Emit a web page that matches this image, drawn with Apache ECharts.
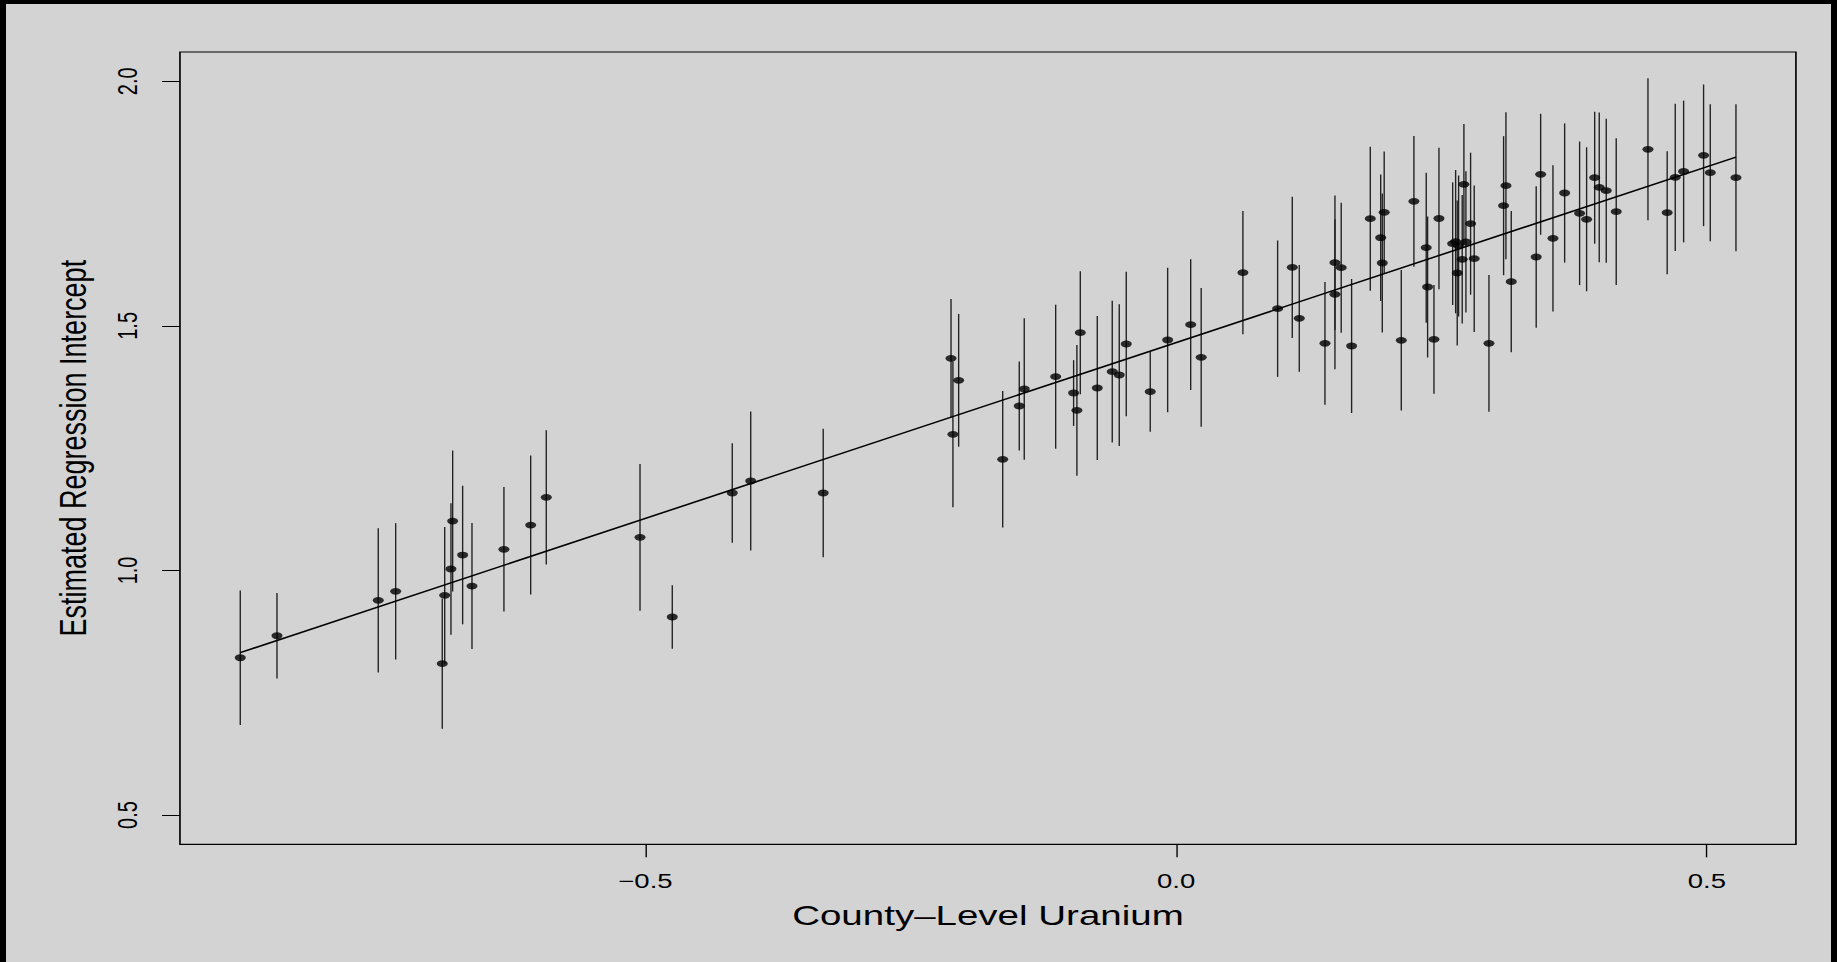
<!DOCTYPE html>
<html>
<head>
<meta charset="utf-8">
<title>County intercepts vs county-level uranium</title>
<script src="https://cdn.jsdelivr.net/npm/echarts@6/dist/echarts.min.js"></script>
<style>
  html, body { margin: 0; padding: 0; background: #000; width: 1837px; height: 962px; overflow: hidden; }
  #frame { position: absolute; left: 6px; top: 4px; width: 1825px; height: 958px; background: #d3d3d3; overflow: hidden; }
  /* the plot is laid out on a narrower canvas and widened horizontally */
  #chart { position: absolute; left: 0; top: 0; width: 1327px; height: 958px; transform-origin: 0 0; }
</style>
</head>
<body>
<div id="frame"><div id="chart"></div></div>
<script>
// County-level log uranium (x) for each of the 85 counties
const uranium = [
  -0.8817, -0.8471, -0.7517, -0.7353, -0.6914, -0.6891, -0.6832, -0.6816, -0.6722, -0.6634,
  -0.6333, -0.6081, -0.5934, -0.5051, -0.4747, -0.4182, -0.4008, -0.3325, -0.2121, -0.2103,
  -0.2049, -0.1634, -0.1478, -0.1431, -0.1135, -0.0966, -0.0935, -0.0903, -0.0743, -0.0602,
  -0.0536, -0.0470, -0.0244, -0.0080, 0.0137, 0.0236, 0.0629, 0.0956, 0.1094, 0.1160,
  0.1402, 0.1496, 0.1496, 0.1555, 0.1653, 0.1829, 0.1927, 0.1942, 0.1960, 0.2121,
  0.2240, 0.2356, 0.2369, 0.2429, 0.2476, 0.2605, 0.2633, 0.2661, 0.2648, 0.2695,
  0.2711, 0.2730, 0.2774, 0.2808, 0.2947, 0.3085, 0.3107, 0.3157, 0.3392, 0.3434,
  0.3550, 0.3660, 0.3801, 0.3867, 0.3943, 0.3986, 0.4052, 0.4146, 0.4445, 0.4626,
  0.4702, 0.4781, 0.4969, 0.5032, 0.5274
];

// Estimated county intercepts
const intercept = [
  0.8215, 0.8665, 0.9389, 0.9573, 0.8093, 0.9491, 1.0029, 1.1010, 1.0315, 0.9681,
  1.0432, 1.0928, 1.1495, 1.0677, 0.9048, 1.1583, 1.1828, 1.1583, 1.4337, 1.2783,
  1.3887, 1.2272, 1.3362, 1.3709, 1.3961, 1.3627, 1.3274, 1.4860, 1.3730, 1.4063,
  1.3995, 1.4629, 1.3654, 1.4711, 1.5024, 1.4357, 1.6087, 1.5351, 1.6197, 1.5155,
  1.4643, 1.6291, 1.5645, 1.6189, 1.4588, 1.7191, 1.6802, 1.6285, 1.7322, 1.4705,
  1.7547, 1.6598, 1.5795, 1.4725, 1.7195, 1.6680, 1.6721, 1.6633, 1.6081, 1.6361,
  1.7894, 1.6715, 1.7089, 1.6373, 1.4643, 1.7457, 1.7866, 1.5903, 1.6408, 1.8099,
  1.6790, 1.7716, 1.7301, 1.7179, 1.8029, 1.7833, 1.7763, 1.7334, 1.8610, 1.7314,
  1.8037, 1.8156, 1.8487, 1.8131, 1.8029
];

// Standard errors (bars run one standard error above and below)
const stdErr = [
  0.1373, 0.0872, 0.1475, 0.1394, 0.1329, 0.1397, 0.1346, 0.1441, 0.1417, 0.1288,
  0.1272, 0.1421, 0.1373, 0.1500, 0.0648, 0.1016, 0.1421, 0.1312, 0.1213, 0.1492,
  0.1357, 0.1396, 0.0910, 0.1445, 0.1472, 0.0672, 0.1336, 0.1257, 0.1472, 0.1449,
  0.1449, 0.1479, 0.0818, 0.1476, 0.1336, 0.1418, 0.1260, 0.1394, 0.1444, 0.1091,
  0.1254, 0.1373, 0.1533, 0.1329, 0.1370, 0.1472, 0.1295, 0.1421, 0.1243, 0.1437,
  0.1336, 0.1533, 0.1441, 0.1111, 0.1448, 0.1254, 0.1465, 0.1441, 0.1482, 0.1312,
  0.1233, 0.1444, 0.1452, 0.1497, 0.1397, 0.1421, 0.1503, 0.1444, 0.1445, 0.1237,
  0.1496, 0.1423, 0.1468, 0.1472, 0.1349, 0.1530, 0.1472, 0.1500, 0.1452, 0.1257,
  0.1506, 0.1449, 0.1448, 0.1400, 0.1503
];

// Fitted group-level regression line, end points
const fitUranium = [-0.8817, 0.5274];
const fitIntercept = [0.832, 1.845];

// Axis ticks
const xTicks = [-0.5, 0, 0.5];
const yTicks = [0.5, 1.0, 1.5, 2.0];

const SX = 1825 / 1327;
const chartDom = document.getElementById('chart');
chartDom.style.transform = 'scaleX(' + SX + ')';

const chart = echarts.init(chartDom, null, { renderer: 'svg' });

const fmt = v => (v < 0 ? '\u2212' : '') + Math.abs(v).toFixed(1);
const FONT = '"Liberation Sans", Arial, Helvetica, sans-serif';

const barData = uranium.map((u, i) => [u, intercept[i] - stdErr[i], intercept[i] + stdErr[i]]);
const pointData = uranium.map((u, i) => [u, intercept[i]]);
const fitData = fitUranium.map((u, i) => [u, fitIntercept[i]]);

chart.setOption({
  backgroundColor: 'transparent',
  animation: false,
  grid: {
    left: 126.5, right: 25.5, top: 48, bottom: 117.7,
    show: true, borderColor: '#000', borderWidth: 1.2, backgroundColor: 'transparent'
  },
  xAxis: {
    type: 'value',
    min: -0.9385, max: 0.5839,
    axisLine: { show: false, onZero: false },
    splitLine: { show: false },
    axisTick: { show: true, customValues: xTicks, length: 13, lineStyle: { color: '#000', width: 1 } },
    axisLabel: { customValues: xTicks, formatter: fmt, fontSize: 20, margin: 27, color: '#000', fontFamily: FONT },
    name: 'County\u2013Level Uranium',
    nameLocation: 'middle',
    nameGap: 57,
    nameTextStyle: { fontSize: 28, color: '#000', fontFamily: FONT }
  },
  yAxis: {
    type: 'value',
    min: 0.4401, max: 2.0599,
    axisLine: { show: false, onZero: false },
    splitLine: { show: false },
    axisTick: { show: true, customValues: yTicks, length: 13, lineStyle: { color: '#000', width: 1 } },
    axisLabel: { customValues: yTicks, formatter: fmt, rotate: 90, fontSize: 20, margin: 28, color: '#000', fontFamily: FONT },
    name: 'Estimated Regression Intercept',
    nameLocation: 'middle',
    nameGap: 64,
    nameTextStyle: { fontSize: 27, color: '#000', fontFamily: FONT }
  },
  series: [
    {
      type: 'custom',
      data: barData,
      encode: { x: 0, y: [1, 2] },
      silent: true,
      renderItem: function (params, api) {
        const lo = api.coord([api.value(0), api.value(1)]);
        const hi = api.coord([api.value(0), api.value(2)]);
        return {
          type: 'line',
          shape: { x1: lo[0], y1: lo[1], x2: hi[0], y2: hi[1] },
          style: { stroke: '#222', lineWidth: 1 }
        };
      },
      z: 1
    },
    {
      type: 'line',
      data: fitData,
      symbol: 'none',
      lineStyle: { color: '#000', width: 1.5 },
      silent: true,
      z: 2
    },
    {
      type: 'scatter',
      data: pointData,
      symbol: 'path://M0 5A5 5 0 1 0 10 5A5 5 0 1 0 0 5Z',
      symbolSize: [8, 6.8],
      symbolKeepAspect: false,
      itemStyle: { color: '#000' },
      silent: true,
      z: 3
    }
  ]
});
</script>
</body>
</html>
